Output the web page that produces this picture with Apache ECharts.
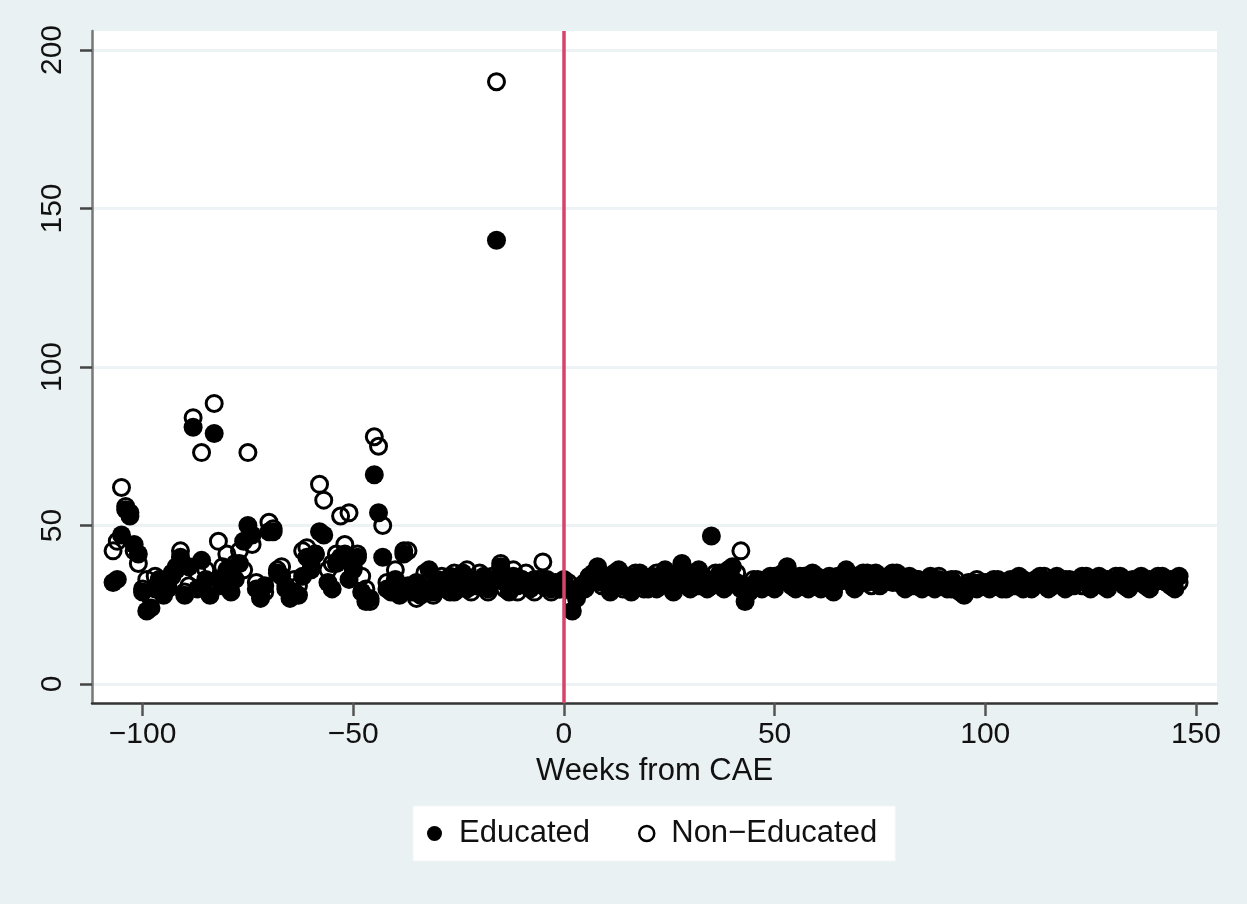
<!DOCTYPE html>
<html>
<head>
<meta charset="utf-8">
<script src="https://cdn.jsdelivr.net/npm/echarts@6/dist/echarts.min.js"></script>
<style>
html,body{margin:0;padding:0;background:#EAF1F3;}
#chart{width:1247px;height:904px;}
</style>
</head>
<body>
<div id="chart"></div>
<script>
// Week range (x categories)
const FIRST_WEEK = -107;
const LAST_WEEK = 146;

// Educated, weeks -107 .. 0
const eduBefore = [32,33,47,55,53,44,41,29,23,24,30,33,28,31,34,36,40,28,37,81,30,39,33,28,79,33,31,36,29,33,38,45,50,47,30,27,31,48,48,35,34,30,27,29,28,34,40,36,41,48,47,32,30,38,40,41,33,37,40,29,26,27,66,54,40,30,29,33,28,41,31,29,32,28,30,36,29,33,31,30,34,29,32,35,30,33,31,32,34,30,33,140,37,32,29,34,31,33,32,30,33,32,31,33,30,31,30,33];
// Educated, weeks 1 .. 146
const eduAfter = [30,23,27,31,30,33,35,37,32,34,29,33,36,31,34,29,33,35,32,30,34,30,33,36,32,29,35,38,33,30,34,36,32,30,46.7,33,35,30,34,37,32,30,26,29,31,33,30,32,34,30,33,35,37,32,30,34,33,30,35,32,30,33,34,29,32,34,36,33,30,34,35,32,33,35,31,33,34,32,35,33,30,34,32,33,30,32,34,30,33,32,30,33,31,29,28,31,32,30,31,32,30,31,33,32,30,31,33,34,30,32,30,33,34,32,30,33,34,32,30,33,31,32,34,33,30,32,34,33,30,32,33,34,31,30,33,32,34,33,30,32,33,34,32,33,30,34];

// Non-Educated, weeks -107 .. 0
const nonBefore = [42,45,62,56,54,42,38,30,33,27,34,33,31,30,35,37,42,29,31,84,35,73,36,31,88.5,45,37,41,35,38,42,36,73,44,32,28,29,51,49,36,37,31,29,33,31,42,43,38,41,63,58,36,38,41,53,44,54,36,41,34,30,26,78,75,50,32,30,36,29,42,42,31,27,30,35,31,28,30,34,31,29,35,30,33,36,29,32,35,31,29,34,190,38,30,32,36,29,33,35,31,29,33,38.5,31,29,32,30,31];
// Non-Educated, weeks 1 .. 146
const nonAfter = [32,26,29,30,32,34,33,35,31,33,32,35,34,30,33,31,35,33,30,33,32,35,31,34,33,31,34,36,32,33,35,31,34,33,31,35,32,34,36,33,35,42,30,31,33,31,32,33,31,34,32,33,35,31,33,32,34,33,31,34,32,33,31,32,34,33,35,32,34,33,32,35,31,33,34,32,33,35,32,34,33,32,31,33,32,31,33,32,34,31,32,30,33,31,30,32,31,33,32,31,32,33,31,30,32,33,31,32,33,31,32,33,32,34,32,31,33,32,33,31,32,33,31,34,32,33,32,31,33,32,34,32,33,31,32,33,32,31,33,32,34,33,32,31,33,32];

// Tick labels
const xTicks = [-100, -50, 0, 50, 100, 150];
const yTicks = [0, 50, 100, 150, 200];
const seriesNames = ['Educated', 'Non\u2212Educated'];
const eventWeek = 0;
const xTitle = 'Weeks from CAE';

const weeks = [];
for (let w = FIRST_WEEK; w <= LAST_WEEK; w++) weeks.push(w);
const eduVals = eduBefore.concat(eduAfter);
const nonVals = nonBefore.concat(nonAfter);
const eduData = weeks.map((w, i) => [w, eduVals[i]]);
const nonData = weeks.map((w, i) => [w, nonVals[i]]);

const FONT = '"Liberation Sans", Arial, sans-serif';
const fmt = v => String(v).replace('-', '\u2212');

const chart = echarts.init(document.getElementById('chart'), null, {renderer: 'canvas'});
chart.setOption({
  backgroundColor: '#EAF1F3',
  animation: false,
  textStyle: {fontFamily: FONT},
  grid: {
    left: 92, right: 30, top: 31, bottom: 201,
    show: true, backgroundColor: '#ffffff', borderWidth: 0
  },
  legend: {
    left: 413, top: 806,
    padding: [12, 18, 12, 14],
    backgroundColor: '#ffffff',
    borderColor: '#F2F6F7', borderWidth: 1,
    itemWidth: 15, itemHeight: 15, itemGap: 48,
    textStyle: {fontFamily: FONT, fontSize: 31, color: '#111', padding: [0, 0, 0, 12]},
    data: [
      {name: seriesNames[0], icon: 'circle', itemStyle: {color: '#000', borderWidth: 0}},
      {name: seriesNames[1], icon: 'circle', itemStyle: {color: '#fff', borderColor: '#000', borderWidth: 2.5}}
    ]
  },
  xAxis: {
    type: 'value', min: -112, max: 155,
    name: xTitle, nameLocation: 'middle', nameGap: 53,
    nameTextStyle: {fontFamily: FONT, fontSize: 31, color: '#111'},
    axisLine: {show: true, onZero: false, lineStyle: {color: '#333', width: 2.5}},
    axisTick: {show: true, customValues: xTicks, length: 13, lineStyle: {color: '#555', width: 2.5}},
    axisLabel: {customValues: xTicks, formatter: fmt, fontFamily: FONT, fontSize: 30, color: '#111', margin: 17},
    splitLine: {show: false}
  },
  yAxis: {
    type: 'value', min: -6, max: 206,
    axisLine: {show: true, onZero: false, lineStyle: {color: '#777', width: 2.5}},
    axisTick: {show: true, customValues: yTicks, length: 12, lineStyle: {color: '#444', width: 2.5}},
    axisLabel: {customValues: yTicks, rotate: 90, fontFamily: FONT, fontSize: 30, color: '#111', margin: 24},
    splitLine: {show: true, lineStyle: {color: '#EDF3F4', width: 3}}
  },
  series: [
    {
      name: seriesNames[0], type: 'scatter', data: eduData,
      symbol: 'circle', symbolSize: 19, z: 3,
      itemStyle: {color: '#000', opacity: 1},
      markLine: {
        silent: true, symbol: 'none', label: {show: false},
        lineStyle: {color: '#D6436B', width: 3.5, type: 'solid'},
        data: [{xAxis: eventWeek}]
      }
    },
    {
      name: seriesNames[1], type: 'scatter', data: nonData,
      symbol: 'circle', symbolSize: 16, z: 4,
      itemStyle: {color: 'rgba(0,0,0,0)', borderColor: '#000', borderWidth: 3, opacity: 1}
    }
  ]
});
</script>
</body>
</html>
